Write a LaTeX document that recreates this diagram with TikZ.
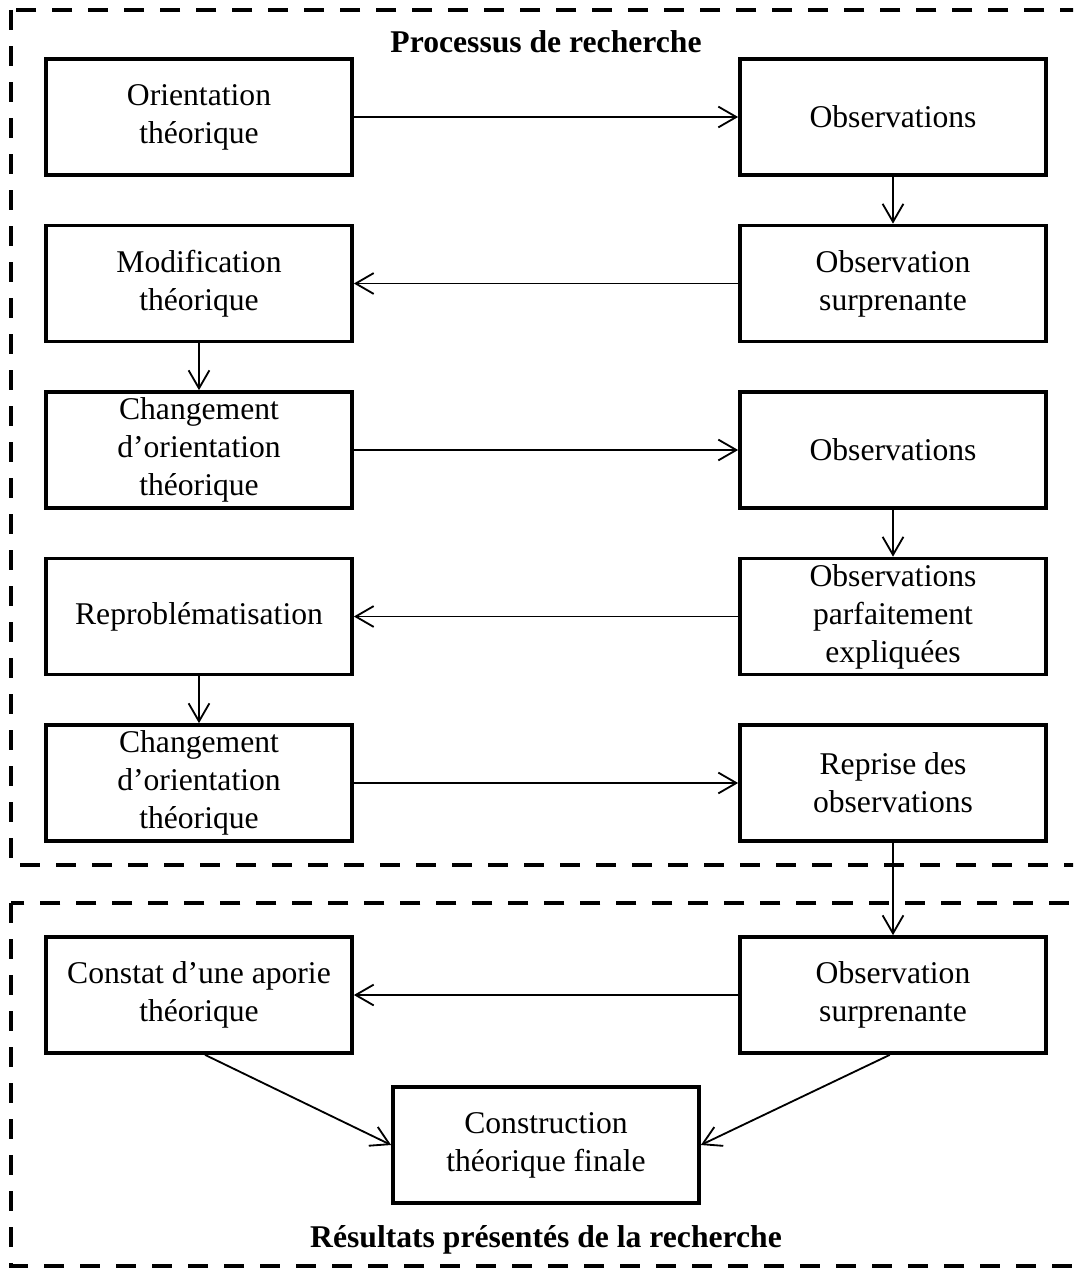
\documentclass[tikz,border=0pt]{standalone}
\usepackage{fontspec}
\setmainfont{Liberation Serif}
\usetikzlibrary{arrows.meta, calc}

\tikzset{
    stage/.style={draw, line width=2.6pt, minimum width=7.65cm, minimum height=2.9cm,
        inner sep=0pt, align=center, font=\fontsize{22.5}{27}\selectfont},
    link/.style={line width=1.3pt, -{Straight Barb[length=0.45cm, width=0.52cm, line width=1.3pt]}},
    zone/.style={line width=3.5pt, dash pattern=on 0.5cm off 0.4cm},
    heading/.style={font=\fontsize{22.5}{27}\selectfont\bfseries}
}

\begin{document}
\begin{tikzpicture}[x=0.025cm, y=-0.025cm]
    \useasboundingbox (0, 0) rectangle (1073, 1268);

    \begin{scope}
        \clip (0, 0) rectangle (1073, 1268);
        \draw[zone] (11, 10) rectangle (1095, 865);
        \draw[zone] (11, 903) rectangle (1095, 1266);
    \end{scope}

    \node[heading] (titre1) at (546, 42) {Processus de recherche};
    \node[heading] (titre2) at (546, 1240) {Résultats présentés de la recherche};

    \node[stage] (orient) at (199, 117) {Orientation\\théorique};
    \node[stage] (obs1) at (893, 117) {Observations};
    \node[stage] (surpr1) at (893, 283.5) {Observation\\surprenante};
    \node[stage] (modif) at (199, 283.5) {Modification\\théorique};
    \node[stage] (chgt1) at (199, 450) {Changement\\d’orientation\\théorique};
    \node[stage] (obs2) at (893, 450) {Observations};
    \node[stage] (parfait) at (893, 616.5) {Observations\\parfaitement\\expliquées};
    \node[stage] (reprob) at (199, 616.5) {Reproblématisation};
    \node[stage] (chgt2) at (199, 783) {Changement\\d’orientation\\théorique};
    \node[stage] (reprise) at (893, 783) {Reprise des\\observations};

    \node[stage] (surpr2) at (893, 995) {Observation\\surprenante};
    \node[stage] (aporie) at (199, 995) {Constat d’une aporie\\théorique};
    \node[stage] (final) at (546, 1145) {Construction\\théorique finale};

    \draw[link] (orient) -- (obs1);
    \draw[link] (obs1) -- (surpr1);
    \draw[link] (surpr1) -- (modif);
    \draw[link] (modif) -- (chgt1);
    \draw[link] (chgt1) -- (obs2);
    \draw[link] (obs2) -- (parfait);
    \draw[link] (parfait) -- (reprob);
    \draw[link] (reprob) -- (chgt2);
    \draw[link] (chgt2) -- (reprise);
    \draw[link] (reprise) -- (surpr2);
    \draw[link] (surpr2) -- (aporie);

    \draw[link] ([xshift=0.15cm]aporie.south) -- (final.west);
    \draw[link] ([xshift=-0.08cm]surpr2.south) -- (final.east);
\end{tikzpicture}
\end{document}
